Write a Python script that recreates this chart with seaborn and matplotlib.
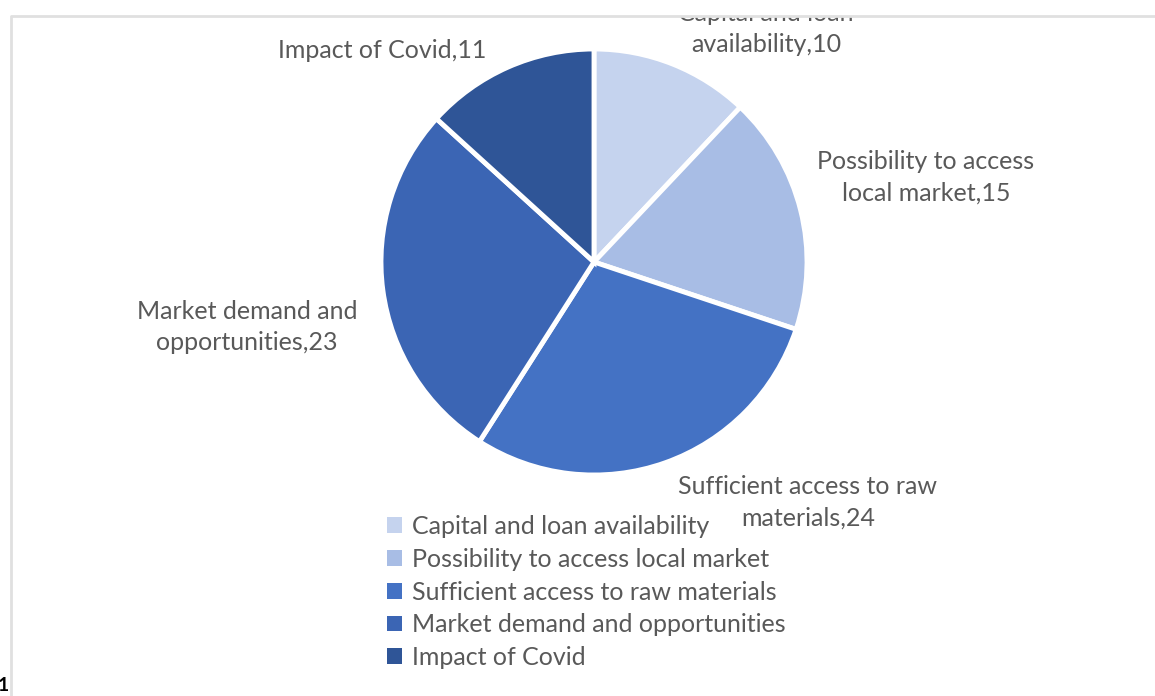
import matplotlib
matplotlib.use("Agg")
import matplotlib.pyplot as plt
from matplotlib.patches import Patch, Rectangle
from matplotlib.lines import Line2D
import seaborn as sns

# Survey factors and their counts
categories = [
    "Capital and loan availability",
    "Possibility to access local market",
    "Sufficient access to raw materials",
    "Market demand and opportunities",
    "Impact of Covid",
]
values = [10, 15, 24, 23, 11]
slice_labels = [
    "Capital and loan\navailability",
    "Possibility to access\nlocal market",
    "Sufficient access to raw\nmaterials",
    "Market demand and\nopportunities",
    "Impact of Covid",
]
colors = ["#c5d3ee", "#a8bde5", "#4472c4", "#3b65b4", "#2f5597"]

sns.set_theme(style="white")
plt.rcParams["font.family"] = ["Lato", "DejaVu Sans"]

W, H = 1155, 696
TEXT = "#595959"
FS = 18
fig = plt.figure(figsize=(W / 100, H / 100), dpi=100)
ax = fig.add_axes([0, 0, 1, 1])

cx, cy, r = 594, H - 262, 213
wedges, _ = ax.pie(
    values, colors=colors, startangle=90, counterclock=False,
    center=(cx, cy), radius=r, frame=True,
    wedgeprops=dict(edgecolor="white", linewidth=3.5),
)
ax.set_xlim(0, W)
ax.set_ylim(0, H)
ax.set_aspect("auto")
ax.set_axis_off()

# Data labels placed around the pie (pixel positions of label centres)
label_pos = [(766, 29), (926, 177), (808, 502), (247, 327), (382, 51)]
for lab, v, (px, py) in zip(slice_labels, values, label_pos):
    ax.text(px, H - py, f"{lab},{v}", ha="center", va="center",
            multialignment="center", fontsize=FS, color=TEXT, linespacing=1.45)

# Chart area border: the top edge hides whatever sits above it
ax.add_patch(Rectangle((11, H - 16), W, 16, facecolor="white", edgecolor="none", zorder=10))
ax.add_line(Line2D([11, 11, W], [0, H - 16, H - 16], color="#e0e0e0", lw=2, zorder=11))

handles = [Patch(facecolor=c, edgecolor="none") for c in colors]
fig.legend(
    handles, categories, loc="upper left", bbox_to_anchor=(387 / W, 1 - 515 / H),
    frameon=False, fontsize=FS, handlelength=0.6, handleheight=0.6,
    handletextpad=0.4, labelspacing=0.39, borderpad=0, borderaxespad=0,
    labelcolor=TEXT,
)

fig.text(-2 / W, 2 / H, "1", fontsize=14, fontweight="bold", color="black",
         ha="left", va="bottom")

fig.savefig("out.png", dpi=100, facecolor="white")
